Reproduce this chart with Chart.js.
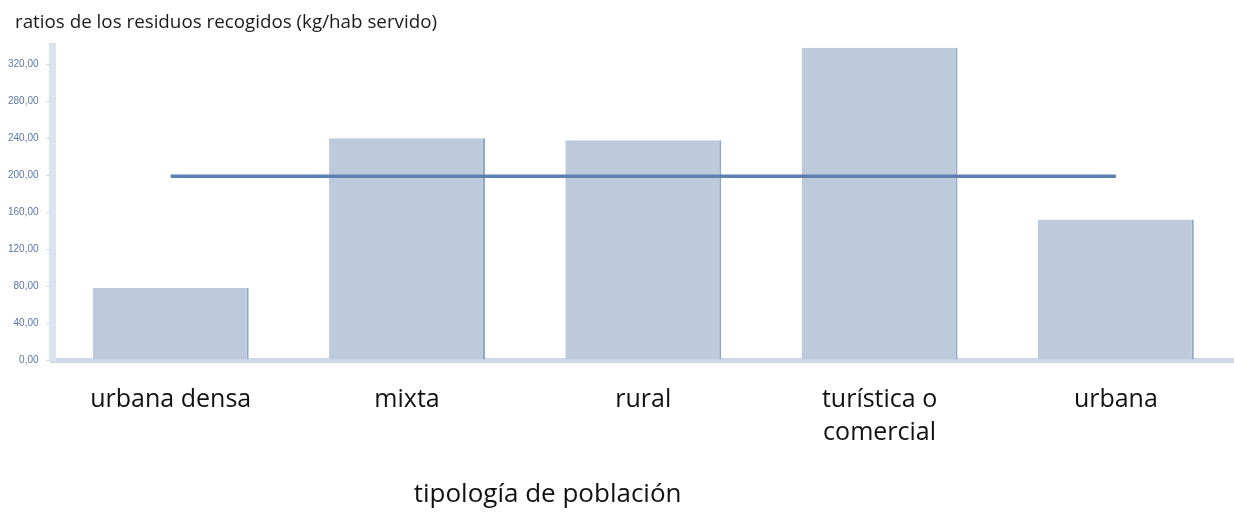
<!DOCTYPE html>
<html>
<head>
<meta charset="utf-8">
<script src="https://cdn.jsdelivr.net/npm/chart.js@4/dist/chart.umd.min.js"></script>
<style>
  html, body { margin: 0; padding: 0; background: #ffffff; }
  #wrap { width: 1234px; height: 512px; position: relative; }
</style>
</head>
<body>
<div id="wrap"><canvas id="c"></canvas></div>
<script>
const chartTitle = 'ratios de los residuos recogidos (kg/hab servido)';
const axisTitle = 'tipología de población';
const categories = ['urbana densa', 'mixta', 'rural', ['turística o', 'comercial'], 'urbana'];
const ratios = [78, 240, 238, 338, 152];
const average = [199, 199, 199, 199, 199];
const yMin = 0;
const yMax = 340;
const yStep = 40;
const yLastTick = 320;

const titlesPlugin = {
  id: 'titles',
  afterDraw(chart) {
    const ctx = chart.ctx;
    const a = chart.chartArea;
    ctx.save();
    ctx.fillStyle = '#1a1a1a';
    ctx.textBaseline = 'middle';
    ctx.font = '18.8px "Open Sans"';
    ctx.textAlign = 'left';
    ctx.fillText(chartTitle, 15, 23);
    ctx.font = '26px "Open Sans"';
    ctx.textAlign = 'center';
    ctx.fillStyle = '#111111';
    ctx.fillText(axisTitle, a.left + (a.right - a.left) * 0.419, a.bottom + 135);
    ctx.restore();
  }
};

new Chart(document.getElementById('c'), {
  data: {
    labels: categories,
    datasets: [
      {
        type: 'line',
        data: average,
        borderColor: '#5d80b1',
        borderWidth: 3.5,
        pointRadius: 0,
        fill: false,
        order: 1
      },
      {
        type: 'bar',
        data: ratios,
        backgroundColor: '#bccadc',
        borderColor: '#8ea7c8',
        borderWidth: { top: 0, left: 0, bottom: 0, right: 2 },
        borderSkipped: false,
        barPercentage: 0.66,
        categoryPercentage: 1.0,
        order: 2
      }
    ]
  },
  options: {
    responsive: true,
    maintainAspectRatio: false,
    animation: false,
    layout: { padding: { left: 0, right: 0, top: 46, bottom: 40 } },
    plugins: {
      legend: { display: false },
      tooltip: { enabled: false },
      title: { display: false }
    },
    scales: {
      x: {
        offset: true,
        grid: { display: false, drawTicks: false },
        border: { display: true, color: 'rgba(196,210,228,0.85)', width: 5 },
        ticks: {
          color: '#111111',
          font: { family: '"Open Sans"', size: 25, lineHeight: 1.32 },
          padding: 23,
          maxRotation: 0,
          autoSkip: false
        }
      },
      y: {
        min: yMin,
        max: yMax,
        afterBuildTicks(scale) {
          scale.ticks = scale.ticks.filter(t => t.value <= yLastTick);
        },
        grid: { drawOnChartArea: false, drawTicks: true, tickLength: 6, color: '#c9d3e0' },
        border: { display: true, color: '#dbe3ee', width: 7 },
        ticks: {
          stepSize: yStep,
          color: '#5a77a3',
          font: { family: '"Liberation Sans"', size: 10 },
          padding: 8,
          callback: v => v.toFixed(2).replace('.', ',')
        }
      }
    }
  },
  plugins: [titlesPlugin]
});
</script>
</body>
</html>
